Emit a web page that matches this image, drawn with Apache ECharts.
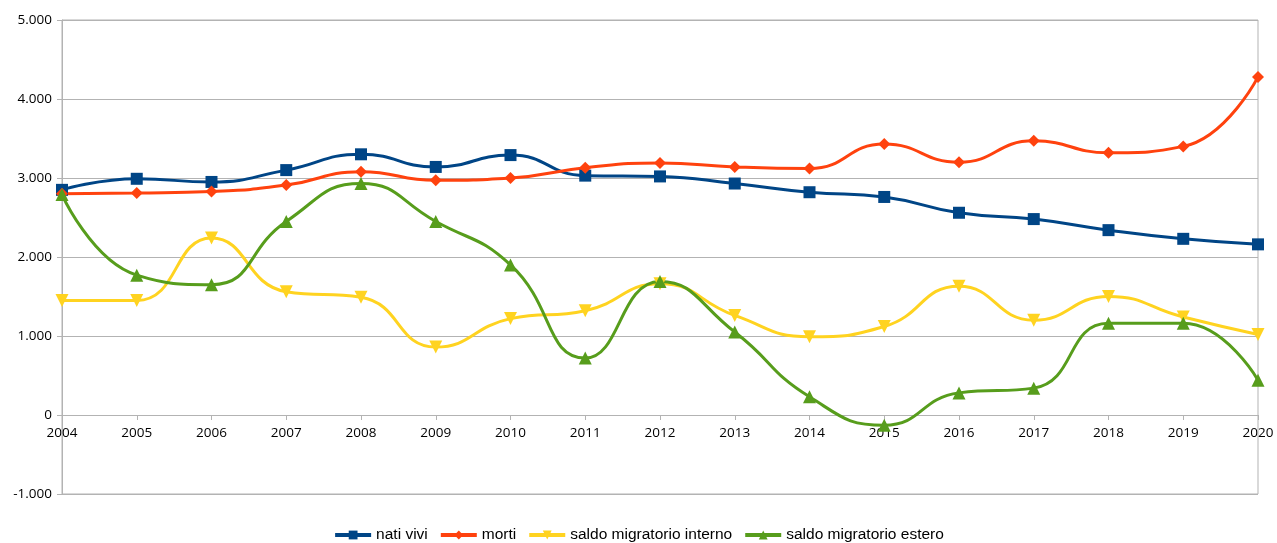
<!DOCTYPE html>
<html>
<head>
<meta charset="utf-8">
<script src="https://cdn.jsdelivr.net/npm/echarts@6/dist/echarts.min.js"></script>
<style>
  html, body { margin: 0; padding: 0; background: #fff; }
  #chart { width: 1277px; height: 543px; }
</style>
</head>
<body>
<div id="chart"></div>
<script>
// dati
const anni = ["2004", "2005", "2006", "2007", "2008", "2009", "2010", "2011", "2012",
  "2013", "2014", "2015", "2016", "2017", "2018", "2019", "2020"];
const natiVivi = [2850, 2990, 2950, 3100, 3300, 3140, 3290, 3030, 3020, 2930, 2820, 2760, 2560, 2480, 2340, 2230, 2160];
const morti = [2800, 2810, 2830, 2910, 3080, 2970, 3000, 3130, 3190, 3140, 3120, 3430, 3200, 3470, 3320, 3400, 4280];
const saldoInterno = [1450, 1450, 2240, 1560, 1490, 860, 1220, 1320, 1660, 1260, 990, 1120, 1630, 1200, 1500, 1240, 1020];
const saldoEstero = [2790, 1770, 1650, 2450, 2930, 2450, 1900, 720, 1690, 1050, 230, -130, 280, 340, 1160, 1160, 440];

function fmt(v) {
  let s = String(Math.abs(v)).replace(/\B(?=(\d{3})+(?!\d))/g, ".");
  return (v < 0 ? "-" : "") + s;
}

let el = document.getElementById("chart");
let myChart = echarts.init(el);

function serie(nome, dati, colore, simbolo, size, rot) {
  return {
    name: nome,
    type: "line",
    data: dati,
    smooth: 0.5,
    symbol: simbolo,
    symbolSize: size,
    symbolRotate: rot || 0,
    showAllSymbol: true,
    lineStyle: { color: colore, width: 3 },
    itemStyle: { color: colore },
    emphasis: { disabled: true },
  };
}

myChart.setOption({
  animation: false,
  textStyle: { fontFamily: "Open Sans" },
  grid: {
    left: 62, right: 19, top: 20, bottom: 49,
    show: true, borderColor: "#b3b3b3", borderWidth: 1,
  },
  legend: {
    top: 522,
    left: "center",
    itemWidth: 36,
    itemHeight: 11,
    itemGap: 11,
    lineStyle: { width: 4 },
    textStyle: { fontFamily: "Liberation Sans", fontSize: 15.5, color: "#000" },
    data: ["nati vivi", "morti", "saldo migratorio interno", "saldo migratorio estero"],
  },
  xAxis: {
    type: "category",
    data: anni,
    boundaryGap: false,
    // asse delle categorie sulla linea dello zero (79px sopra il fondo)
    offset: -79,
    axisLine: { onZero: false, lineStyle: { color: "#b3b3b3", width: 1 } },
    axisTick: { show: true, length: 5, lineStyle: { color: "#b3b3b3" } },
    axisLabel: { color: "#000", fontSize: 13.5, margin: 11 },
    splitLine: { show: false },
  },
  yAxis: {
    type: "value",
    min: -1000,
    max: 5000,
    interval: 1000,
    axisLine: { show: true, lineStyle: { color: "#b3b3b3", width: 1 } },
    axisTick: { show: true, length: 5, lineStyle: { color: "#b3b3b3" } },
    axisLabel: { color: "#000", fontSize: 13.5, margin: 10, formatter: fmt },
    splitLine: { show: true, lineStyle: { color: "#b3b3b3", width: 1 } },
  },
  series: [
    serie("nati vivi", natiVivi, "#004586", "rect", 12),
    serie("morti", morti, "#ff420e", "diamond", 12),
    serie("saldo migratorio interno", saldoInterno, "#ffd320", "triangle", 13, 180),
    serie("saldo migratorio estero", saldoEstero, "#579d1c", "triangle", 13),
  ],
});
</script>
</body>
</html>
